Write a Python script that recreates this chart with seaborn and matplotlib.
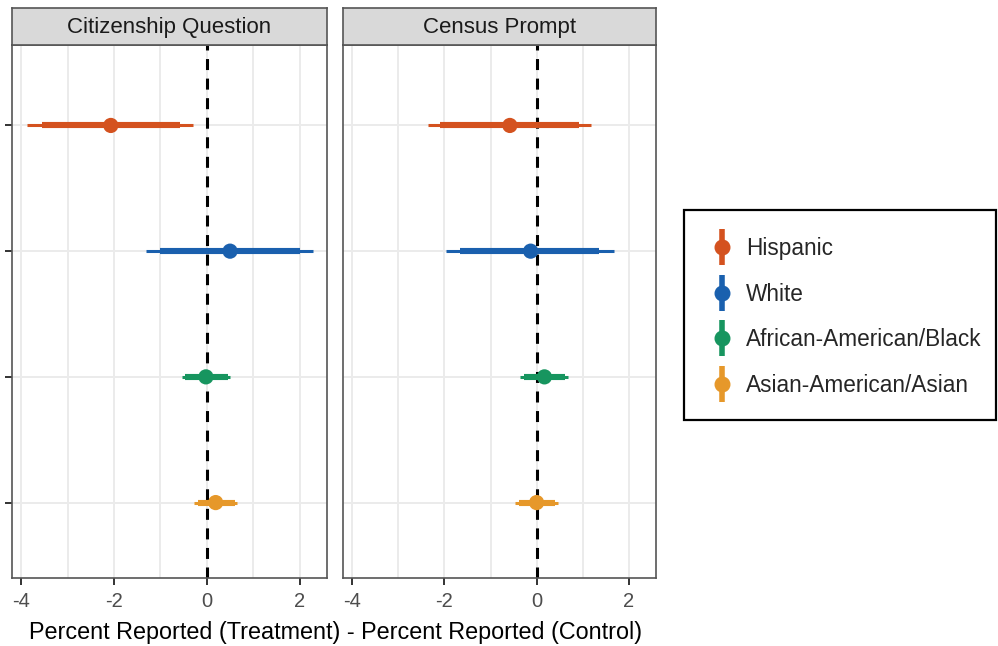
import numpy as np
import pandas as pd
import matplotlib
matplotlib.use('Agg')
import matplotlib.pyplot as plt
import seaborn as sns
from matplotlib.lines import Line2D
from matplotlib.patches import Rectangle
from matplotlib.legend_handler import HandlerTuple

sns.set_theme(style='white')
plt.rcParams['font.family'] = ['Liberation Sans', 'DejaVu Sans']

# Data
groups = ['Hispanic', 'White', 'African-American/Black', 'Asian-American/Asian']
colors = ['#d4521f', '#1a60ae', '#17955f', '#e6982a']
panels = ['Citizenship Question', 'Census Prompt']

est_cit = [-2.07, 0.50, -0.02, 0.19]
lo90_cit = [-3.56, -1.02, -0.47, -0.19]
hi90_cit = [-0.58, 2.01, 0.45, 0.60]
lo95_cit = [-3.87, -1.32, -0.54, -0.28]
hi95_cit = [-0.30, 2.29, 0.50, 0.65]

est_cen = [-0.58, -0.13, 0.17, 0.00]
lo90_cen = [-2.10, -1.66, -0.28, -0.38]
hi90_cen = [0.91, 1.36, 0.62, 0.40]
lo95_cen = [-2.35, -1.97, -0.37, -0.47]
hi95_cen = [1.17, 1.68, 0.69, 0.47]

df = pd.DataFrame({
    'panel': [panels[0]] * 4 + [panels[1]] * 4,
    'group': groups * 2,
    'pos': list(range(4)) * 2,
    'est': est_cit + est_cen,
    'lo90': lo90_cit + lo90_cen,
    'hi90': hi90_cit + hi90_cen,
    'lo95': lo95_cit + lo95_cen,
    'hi95': hi95_cit + hi95_cen,
})
pal = dict(zip(groups, colors))

fig = plt.figure(figsize=(9.98, 6.46), dpi=100)
W, H = 998, 646
boxes = [(12, 327), (343, 656)]
top_px, bot_px = 45, 578

for i, (panel, (x0, x1)) in enumerate(zip(panels, boxes)):
    ax = fig.add_axes([x0 / W, 1 - bot_px / H, (x1 - x0) / W, (bot_px - top_px) / H])
    sub = df[df['panel'] == panel]

    for v in [-4, -3, -2, -1, 0, 1, 2]:
        ax.axvline(v, color='#ebebeb', lw=1.4, zorder=0)
    for p in range(4):
        ax.axhline(p, color='#ebebeb', lw=1.4, zorder=0)

    ax.axvline(0, color='black', lw=2.2, ls=(0, (3.6, 2.8)), zorder=1)

    ax.hlines(sub['pos'], sub['lo95'], sub['hi95'], colors=[pal[g] for g in sub['group']], lw=2.2, zorder=2)
    ax.hlines(sub['pos'], sub['lo90'], sub['hi90'], colors=[pal[g] for g in sub['group']], lw=4.4, zorder=3)
    sns.scatterplot(data=sub, x='est', y='pos', hue='group', palette=pal, s=120,
                    edgecolor='none', legend=False, ax=ax, zorder=4)

    ax.set_xlim(-4.2, 2.59)
    ax.set_ylim(3.6, -0.64)
    ax.set_xticks([-4, -2, 0, 2])
    ax.set_xticklabels(['-4', '-2', '0', '2'])
    ax.tick_params(axis='x', colors='#333333', labelcolor='#4d4d4d', labelsize=14.5,
                   length=5, width=1.4, direction='out', bottom=True, pad=5)
    if i == 0:
        ax.set_yticks(range(4))
        ax.set_yticklabels([])
        ax.tick_params(axis='y', colors='#333333', length=5, width=1.4, left=True)
    else:
        ax.set_yticks([])
    ax.set_xlabel('')
    ax.set_ylabel('')
    for s in ax.spines.values():
        s.set_color('#555555')
        s.set_linewidth(1.2)

    strip = fig.add_axes([x0 / W, 1 - top_px / H, (x1 - x0) / W, 37 / H])
    strip.set_facecolor('#d9d9d9')
    strip.set_xticks([])
    strip.set_yticks([])
    for s in strip.spines.values():
        s.set_color('#555555')
        s.set_linewidth(1.2)
    strip.text(0.5, 0.47, panel, ha='center', va='center', fontsize=16, color='#1a1a1a',
               transform=strip.transAxes)

fig.text(336 / W, 1 - 633 / H, 'Percent Reported (Treatment) - Percent Reported (Control)',
         ha='center', va='center', fontsize=16.8, color='black')

# legend: entries without frame, box drawn separately
handles = []
for g in groups:
    bar = Line2D([], [], ls='none', marker='|', markersize=26, markeredgewidth=4, color=pal[g])
    dot = Line2D([], [], ls='none', marker='o', markersize=10.5, color=pal[g])
    handles.append((bar, dot))
leg = fig.legend(handles, groups, handler_map={tuple: HandlerTuple(ndivide=1, pad=0)},
                 loc='center left', bbox_to_anchor=(711 / W, 1 - 317 / H), frameon=False,
                 fontsize=16.3, labelspacing=1.0, handlelength=1.0, handletextpad=0.55,
                 borderpad=0, borderaxespad=0)
fig.patches.append(Rectangle((684 / W, 1 - 420 / H), 312 / W, 210 / H, transform=fig.transFigure,
                             fill=False, edgecolor='black', linewidth=1.6))

fig.savefig('out.png', dpi=100)
